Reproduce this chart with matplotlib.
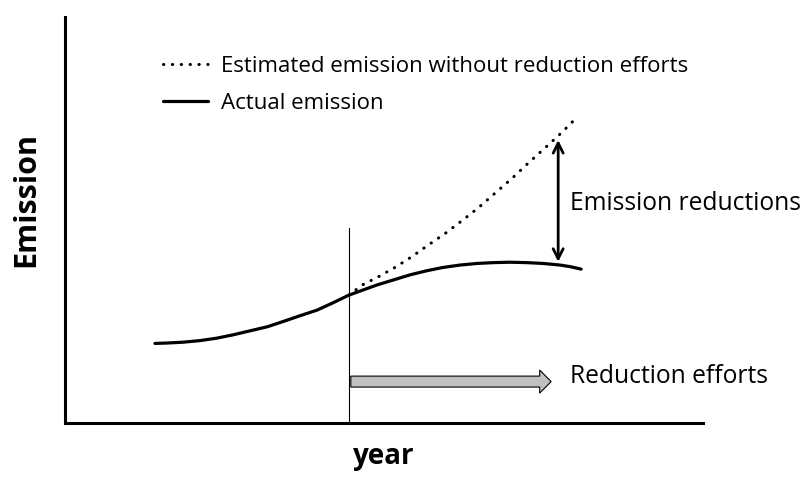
import matplotlib.pyplot as plt
from matplotlib.patches import FancyArrow

plt.rcParams['font.family'] = ['Open Sans', 'DejaVu Sans']

# conceptual units: year 0..100, emission 0..100
actual_year = [14.1, 16.0, 18.5, 21.2, 23.8, 26.3, 29.0, 31.7, 34.2, 36.8, 39.5, 42.0,
               44.5, 48.9, 51.4, 54.1, 56.7, 59.2, 61.9, 64.6, 67.1, 69.7, 72.4,
               74.9, 77.6, 79.2, 80.9]
actual_emis = [19.6, 19.7, 19.9, 20.3, 20.9, 21.7, 22.7, 23.7, 25.0, 26.4, 27.8, 29.6,
               31.5, 34.0, 35.2, 36.5, 37.5, 38.3, 38.9, 39.3, 39.5, 39.6, 39.5,
               39.3, 38.9, 38.5, 37.9]

est_year = [44.5, 46.6, 49.1, 51.7, 54.4, 56.9, 59.6, 62.2, 64.7, 67.4, 70.1, 72.6,
            75.2, 77.9, 80.3]
est_emis = [31.5, 34.0, 36.0, 38.3, 41.0, 43.8, 46.7, 49.8, 52.9, 56.6, 60.3, 64.0,
            67.7, 71.6, 75.4]

start_year = 44.5          # reduction efforts begin
start_line_top = 48.0
gap_year = 77.3            # where the reduction gap is marked
gap_top, gap_bottom = 69.7, 39.7
effort_arrow = (44.8, 76.2, 10.2)   # x start, x end, level

fig = plt.figure(figsize=(8.04, 4.78), dpi=100)
ax = fig.add_axes([65 / 804, 55 / 478, 638 / 804, 406 / 478])
ax.set_xlim(0, 100)
ax.set_ylim(0, 100)

for s in ['top', 'right']:
    ax.spines[s].set_visible(False)
for s in ['left', 'bottom']:
    ax.spines[s].set_linewidth(2.2)
ax.set_xticks([])
ax.set_yticks([])

ax.plot(est_year, est_emis, color='black', lw=2.2, linestyle=(0, (0.1, 2.8)),
        dash_capstyle='round', label='Estimated emission without reduction efforts')
ax.plot(actual_year, actual_emis, color='black', lw=2.3, solid_capstyle='round',
        solid_joinstyle='round', label='Actual emission')

# start of reduction efforts
ax.plot([start_year, start_year], [0, start_line_top], color='black', lw=0.8)

# gap arrow
ax.annotate('', xy=(gap_year, gap_top), xytext=(gap_year, gap_bottom),
            arrowprops=dict(arrowstyle='<->', lw=2, color='black',
                            mutation_scale=18, shrinkA=0, shrinkB=0))
ax.text(79.2, 54.1, 'Emission reductions', fontsize=17.7, va='center', ha='left')

# reduction efforts arrow
x0, x1, yy = effort_arrow
ax.add_patch(FancyArrow(x0, yy, x1 - x0, 0, width=2.7, head_width=5.7,
                        head_length=1.8, length_includes_head=True,
                        facecolor='#c0c0c0', edgecolor='black', lw=0.8))
ax.text(79.2, 11.5, 'Reduction efforts', fontsize=17.7, va='center', ha='left')

leg = ax.legend(loc='upper left', bbox_to_anchor=(0.154, 0.905), frameon=False,
                fontsize=16, handlelength=2.0, handletextpad=0.6,
                labelspacing=0.75, borderpad=0, borderaxespad=0)

ax.set_xlabel('year', fontsize=20, fontweight='bold', labelpad=14)
ax.set_ylabel('Emission', fontsize=22, fontweight='bold')
ax.yaxis.set_label_coords(-0.037, 0.55)

fig.savefig('out.png', dpi=100)
